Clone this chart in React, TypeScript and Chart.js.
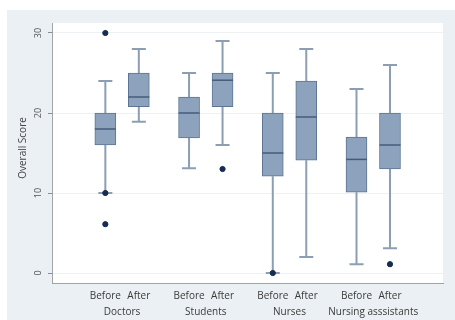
import React, { useEffect, useRef } from "react";
import { Chart, registerables } from "chart.js";

Chart.register(...registerables);

const groupNames = ["Doctors", "Students", "Nurses", "Nursing asssistants"];
const groupCenters = [0.5, 3, 5.5, 8];
const phaseNames = ["Before", "After", "Before", "After", "Before", "After", "Before", "After"];
const boxPositions = [0, 1, 2.5, 3.5, 5, 6, 7.5, 8.5];
const whiskerLow = [10, 18.9, 13.1, 16, 0, 2, 1.1, 3.1];
const q1 = [16, 20.8, 16.9, 20.8, 12.1, 14.1, 10.1, 13];
const medians = [18, 22, 20, 24.1, 15, 19.5, 14.2, 16];
const q3 = [20, 25, 22, 25, 20, 24, 17, 20];
const whiskerHigh = [24, 28, 25, 29, 25, 28, 23, 26];
const outlierBox = [0, 0, 0, 3, 4, 7];
const outlierValues = [30, 10, 6.1, 13, 0, 1.1];
const yTickValues = [0, 10, 20, 30];
const yTitle = "Overall Score";

const BOX_FILL = "rgb(141,163,189)";
const BOX_EDGE = "rgb(92,117,148)";
const MEDIAN = "rgb(68,92,124)";
const WHISKER = "rgb(140,158,180)";
const DOT = "rgb(20,45,80)";

export default function App() {
  const ref = useRef<HTMLCanvasElement>(null);

  useEffect(() => {
    document.body.style.margin = "0";
    const canvas = ref.current!;

    const bgPlugin = {
      id: "bg",
      beforeDraw(chart: any) {
        const { ctx, chartArea } = chart;
        ctx.save();
        ctx.fillStyle = "#ffffff";
        ctx.fillRect(0, 0, chart.width, chart.height);
        ctx.fillStyle = "rgb(234,240,243)";
        ctx.fillRect(7, 10, chart.width - 7, chart.height - 10);
        ctx.fillStyle = "#ffffff";
        ctx.fillRect(chartArea.left, chartArea.top, chartArea.right - chartArea.left, chartArea.bottom - chartArea.top);
        ctx.restore();
      },
      afterDraw(chart: any) {
        const { ctx, chartArea } = chart;
        const ys = chart.scales.y;
        const xs = chart.scales.x;
        ctx.save();
        ctx.fillStyle = "#555";
        ctx.font = "9px 'Open Sans'";
        ctx.textAlign = "center";
        ctx.textBaseline = "middle";
        yTickValues.forEach((v) => {
          const py = ys.getPixelForValue(v);
          ctx.save();
          ctx.translate(38, py);
          ctx.rotate(-Math.PI / 2);
          ctx.fillText(String(v), 0, 0);
          ctx.restore();
        });
        ctx.fillStyle = "#3a3a3a";
        ctx.font = "10px 'Open Sans'";
        phaseNames.forEach((t, i) => {
          ctx.fillText(t, xs.getPixelForValue(boxPositions[i]), chartArea.bottom + 13);
        });
        groupNames.forEach((t, i) => {
          ctx.fillText(t, xs.getPixelForValue(groupCenters[i]), chartArea.bottom + 29);
        });
        ctx.fillStyle = "#444";
        ctx.font = "10px 'Open Sans'";
        ctx.translate(23, 148);
        ctx.rotate(-Math.PI / 2);
        ctx.fillText(yTitle, 0, 0);
        ctx.restore();
      },
    };

    const boxPlugin = {
      id: "boxparts",
      beforeDatasetsDraw(chart: any) {
        const { ctx } = chart;
        const xs = chart.scales.x;
        const ys = chart.scales.y;
        ctx.save();
        ctx.strokeStyle = WHISKER;
        ctx.lineWidth = 2;
        boxPositions.forEach((p, i) => {
          const x = xs.getPixelForValue(p);
          const lo = ys.getPixelForValue(whiskerLow[i]);
          const hi = ys.getPixelForValue(whiskerHigh[i]);
          const a = ys.getPixelForValue(q1[i]);
          const b = ys.getPixelForValue(q3[i]);
          ctx.beginPath();
          ctx.moveTo(x, lo);
          ctx.lineTo(x, a);
          ctx.moveTo(x, b);
          ctx.lineTo(x, hi);
          ctx.moveTo(x - 7, lo);
          ctx.lineTo(x + 7, lo);
          ctx.moveTo(x - 7, hi);
          ctx.lineTo(x + 7, hi);
          ctx.stroke();
        });
        ctx.restore();
      },
      afterDatasetDraw(chart: any, args: any) {
        if (args.index !== 0) return;
        const { ctx } = chart;
        const xs = chart.scales.x;
        const ys = chart.scales.y;
        ctx.save();
        ctx.strokeStyle = MEDIAN;
        ctx.lineWidth = 1.5;
        boxPositions.forEach((p, i) => {
          const x = xs.getPixelForValue(p);
          const m = ys.getPixelForValue(medians[i]);
          ctx.beginPath();
          ctx.moveTo(x - 10.5, m);
          ctx.lineTo(x + 10.5, m);
          ctx.stroke();
        });
        ctx.restore();
      },
    };

    const chart = new Chart(canvas, {
      type: "bar",
      data: {
        datasets: [
          {
            type: "bar",
            data: boxPositions.map((p, i) => ({ x: p, y: [q1[i], q3[i]] })) as any,
            backgroundColor: BOX_FILL,
            borderColor: BOX_EDGE,
            borderWidth: 1,
            borderSkipped: false,
            barThickness: 21,
            order: 0,
          } as any,
          {
            type: "scatter",
            data: outlierValues.map((v, i) => ({ x: boxPositions[outlierBox[i]], y: v })),
            backgroundColor: DOT,
            borderColor: DOT,
            pointRadius: 2.6,
            order: -1,
          } as any,
        ],
      },
      options: {
        responsive: false,
        animation: false,
        layout: { padding: { left: 7, top: 23, right: 12, bottom: 37 } },
        plugins: { legend: { display: false }, tooltip: { enabled: false } },
        scales: {
          x: {
            type: "linear",
            position: "bottom",
            min: -0.62,
            max: 9.11,
            grid: { display: false, drawTicks: false },
            border: { display: true, color: "#a0a4a8", width: 1 },
            afterFit: (s: any) => {
              s.height = 0;
              s.paddingLeft = 0;
              s.paddingRight = 0;
            },
            ticks: { display: false },
          },
          y: {
            type: "linear",
            position: "left",
            min: -1.25,
            max: 31.25,
            afterBuildTicks: (s: any) => {
              s.ticks = yTickValues.map((v) => ({ value: v }));
            },
            afterFit: (s: any) => {
              s.width = 45;
            },
            grid: { color: "rgb(238,241,243)", tickColor: "#8a8e92", tickLength: 4, lineWidth: 1 },
            border: { display: true, color: "#a0a4a8", width: 1 },
            ticks: { display: false },
          },
        },
      } as any,
      plugins: [bgPlugin, boxPlugin],
    });
    return () => chart.destroy();
  }, []);

  return (
    <div style={{ width: 455, height: 320 }}>
      <canvas ref={ref} width={455} height={320} style={{ display: "block" }} />
    </div>
  );
}
